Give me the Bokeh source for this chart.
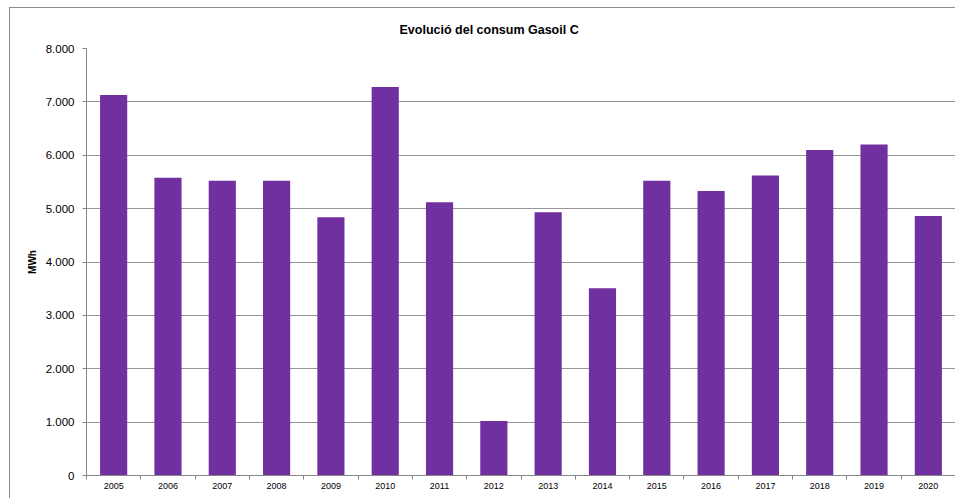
from bokeh.plotting import figure
from bokeh.models import Range1d, FixedTicker, ColumnDataSource, InlineStyleSheet
from bokeh.embed import file_html
from bokeh.resources import INLINE

# ---- data ----
years = ["2005", "2006", "2007", "2008", "2009", "2010", "2011", "2012",
         "2013", "2014", "2015", "2016", "2017", "2018", "2019", "2020"]
consum = [7130, 5580, 5520, 5520, 4840, 7280, 5120, 1020,
          4930, 3510, 5520, 5330, 5620, 6100, 6200, 4860]
y_ticks = [0, 1000, 2000, 3000, 4000, 5000, 6000, 7000, 8000]
y_tick_labels = ["0", "1.000", "2.000", "3.000", "4.000", "5.000", "6.000", "7.000", "8.000"]
title_text = "Evolució del consum Gasoil C"
y_title = "MWh"

idx = list(range(len(years)))
src = ColumnDataSource(dict(x=idx, top=consum, year=years))

# chart-area border: only its left and top edges fall inside the picture
css = InlineStyleSheet(css=""":host {
  background:
    linear-gradient(#8c8c8c, #8c8c8c) 9px 7px / 1px 100% no-repeat,
    linear-gradient(#8c8c8c, #8c8c8c) 9px 7px / 100% 1px no-repeat,
    #ffffff;
}""")

p = figure(width=955, height=498, output_backend="svg", toolbar_location=None,
           x_range=Range1d(-0.5, len(years) - 0.5), y_range=Range1d(0, 8000),
           min_border_left=86, min_border_right=0, min_border_top=48, min_border_bottom=23,
           stylesheets=[css])

p.vbar(x="x", top="top", width=0.5, source=src, fill_color="#7030A0", line_color=None)

p.title.text = title_text
p.title.align = "left"
p.title.offset = 313
p.title.text_font = "Liberation Sans"
p.title.text_font_size = "12.5px"
p.title.text_font_style = "bold"
p.title.text_color = "#000000"
p.title.standoff = 23

p.outline_line_color = None
p.background_fill_color = "white"
p.border_fill_color = None

# x axis
xa = p.xaxis[0]
xa.ticker = FixedTicker(ticks=idx, minor_ticks=[i - 0.5 for i in range(len(years) + 1)])
xa.major_label_overrides = {i: y for i, y in zip(idx, years)}
xa.major_tick_line_color = None
xa.major_tick_out = 4
xa.major_tick_in = 0
xa.minor_tick_line_color = "#868686"
xa.minor_tick_out = 4
xa.minor_tick_in = 0
xa.major_label_standoff = 3
xa.major_label_text_font = "Liberation Sans"
xa.major_label_text_font_size = "9px"
xa.major_label_text_color = "#000000"
xa.axis_line_color = "#868686"

# y axis
ya = p.yaxis[0]
ya.ticker = FixedTicker(ticks=y_ticks, minor_ticks=[])
ya.major_label_overrides = {t: l for t, l in zip(y_ticks, y_tick_labels)}
ya.major_tick_out = 4
ya.major_tick_in = 0
ya.major_tick_line_color = "#868686"
ya.minor_tick_line_color = None
ya.major_label_standoff = 8
ya.major_label_text_font = "Liberation Sans"
ya.major_label_text_font_size = "11.5px"
ya.major_label_text_color = "#000000"
ya.axis_line_color = "#868686"
ya.axis_label = y_title
ya.axis_label_text_font = "Liberation Sans"
ya.axis_label_text_font_size = "10px"
ya.axis_label_text_font_style = "bold"
ya.axis_label_text_color = "#000000"
ya.axis_label_standoff = 5

p.xgrid.grid_line_color = None
p.ygrid.grid_line_color = "#969696"
p.ygrid.grid_line_width = 1

open("out.html", "w").write(file_html(p, INLINE))
